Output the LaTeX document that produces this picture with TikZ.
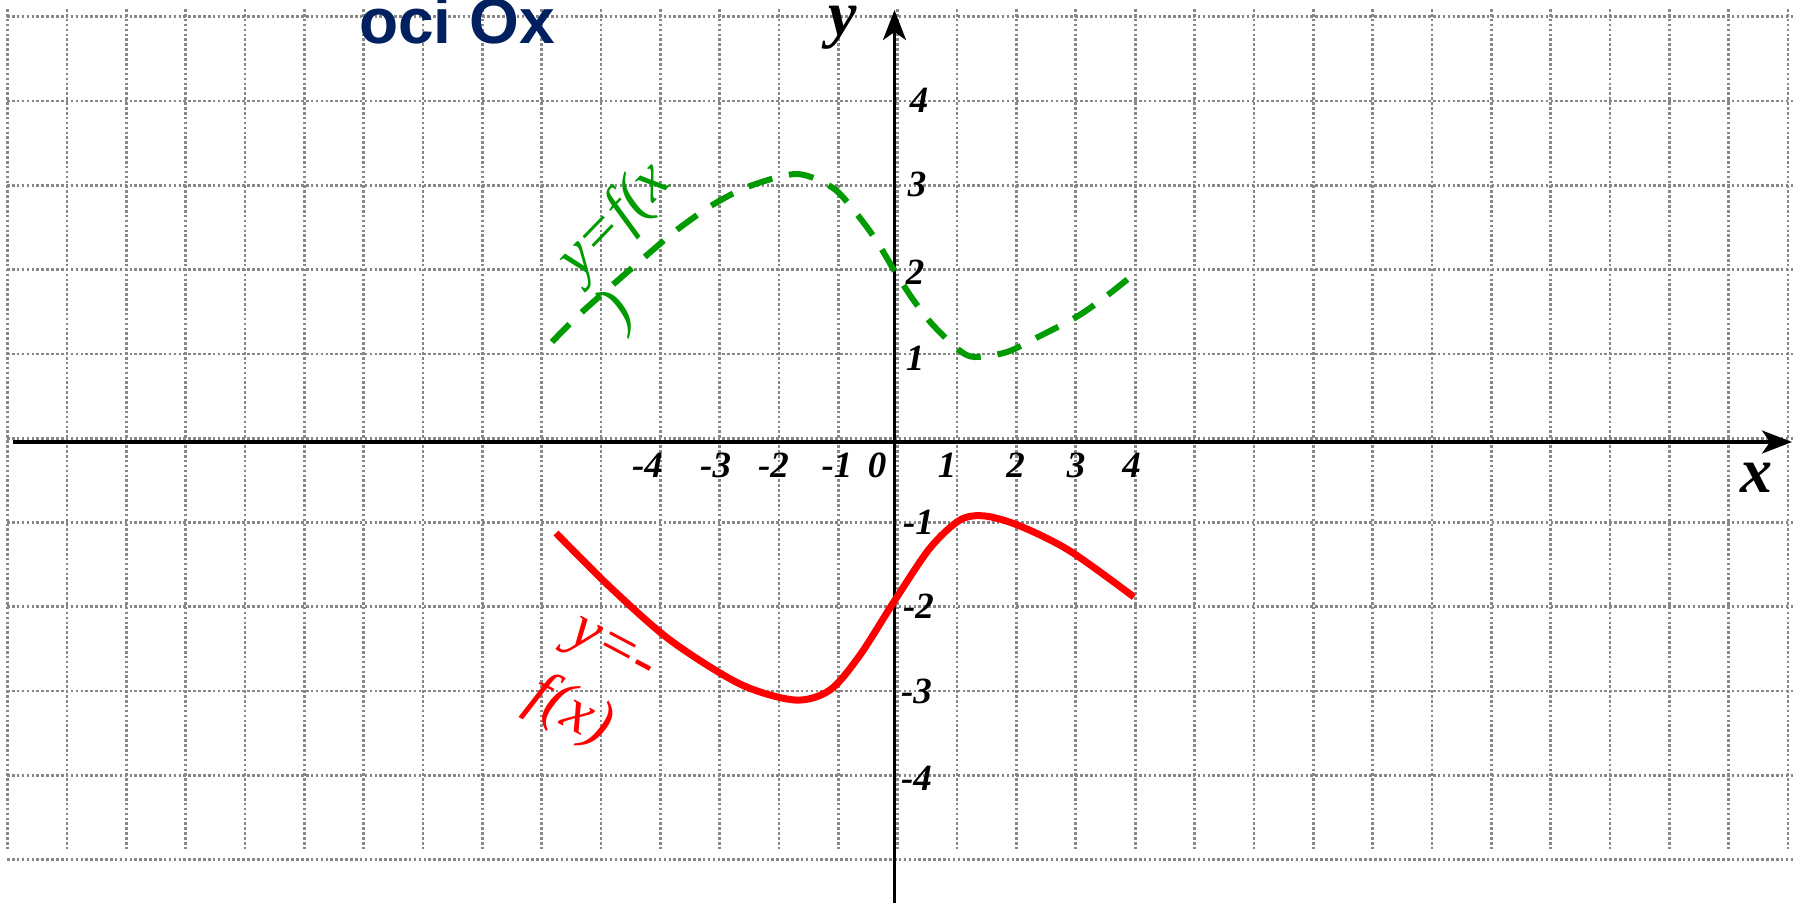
\documentclass[tikz,border=0pt]{standalone}
\usepackage{fontspec}
\setmainfont{Liberation Serif}
\newfontfamily\titlefont{Liberation Sans}
\usetikzlibrary{arrows.meta}
\definecolor{navy}{RGB}{0,32,96}
\definecolor{gridgray}{RGB}{135,135,135}
\definecolor{curvegreen}{RGB}{0,155,0}
\definecolor{curvered}{RGB}{255,0,0}
\begin{document}
\begin{tikzpicture}[x=1pt,y=-1pt,
  gridline/.style={draw=gridgray, line width=2.7pt, dash pattern=on 2.6pt off 2.3pt},
  axisline/.style={draw=black, line width=3.4pt, -{Stealth[length=30pt,width=23pt,inset=8pt]}},
  ticklab/.style={font=\fontsize{37}{40}\selectfont\bfseries\itshape, inner sep=0pt},
  axlab/.style={font=\fontsize{64}{70}\selectfont\bfseries\itshape, inner sep=0pt},
  greenlab/.style={text=curvegreen, font=\fontsize{62}{66}\selectfont\itshape, inner sep=0pt, rotate=46},
  redlab/.style={text=curvered, font=\fontsize{62}{66}\selectfont\itshape, inner sep=0pt, rotate=-28},
  fcurve/.style={draw=curvegreen, line width=6pt, dash pattern=on 25pt off 17pt},
  gcurve/.style={draw=curvered, line width=7pt}
]
\useasboundingbox (0,0) rectangle (1801,903);
\fill[white] (0,0) rectangle (1801,903);
% grid
\foreach \k in {0,...,30} \draw[gridline] ({7.5+59.35*\k},9) -- ({7.5+59.35*\k},849);
\foreach \k in {0,...,10} \draw[gridline] (7,{16.7+84.3*\k}) -- (1795,{16.7+84.3*\k});
% axes
\coordinate (xs) at (13,442);
\coordinate (xe) at (1792,442);
\coordinate (ys) at (894.5,903);
\coordinate (ye) at (894.5,10);
\draw[axisline] (xs) -- (xe);
\draw[axisline] (ys) -- (ye);
% curves
\draw[fcurve] plot[smooth] coordinates {(552,342) (582,312) (647,255) (678,229) (714,204) (750,186) (797,174) (833,188) (856,213) (876,240) (894,270) (912,298) (932,324) (959,350) (975,357) (1007,352) (1038,337) (1078,316) (1109,294) (1129,278)};
\draw[gcurve] plot[smooth] coordinates {(556,533) (610,587) (670,640) (740,684) (795,700) (830,690) (860,655) (895,600) (930,548) (960,520) (985,516) (1020,526) (1070,551) (1134,597)};
% title
\node[anchor=base west, text=navy, font=\titlefont\bfseries\fontsize{64}{70}\selectfont, inner sep=0pt] (title) at (359,43) {oci Ox};
% axis labels
\node[axlab] (ylab) at (843,28) {y};
\node[axlab] (xlab) at (1756,478) {x};
% y ticks
\node[ticklab] (yp4) at (919,100) {4};
\node[ticklab] (yp3) at (917,184) {3};
\node[ticklab] (yp2) at (915,272) {2};
\node[ticklab] (yp1) at (915,358) {1};
\node[ticklab] (ym1) at (918.5,522) {-1};
\node[ticklab] (ym2) at (918.5,606) {-2};
\node[ticklab] (ym3) at (916.5,691) {-3};
\node[ticklab] (ym4) at (916.5,778) {-4};
% x ticks
\node[ticklab] (xm4) at (647.5,465) {-4};
\node[ticklab] (xm3) at (715.6,465) {-3};
\node[ticklab] (xm2) at (773.5,465) {-2};
\node[ticklab] (xm1) at (837,465) {-1};
\node[ticklab] (x0) at (877,465) {0};
\node[ticklab] (xp1) at (947,465) {1};
\node[ticklab] (xp2) at (1015.6,465) {2};
\node[ticklab] (xp3) at (1076,465) {3};
\node[ticklab] (xp4) at (1131.7,465) {4};
% curve labels
\node[greenlab] (gl1) at (615,222) {y=f(x};
\node[greenlab] (gl2) at (618,311) {)};
\node[redlab] (rl1) at (610,655) {y=-};
\node[redlab] (rl2) at (570,712) {f(x)};
\end{tikzpicture}
\end{document}
